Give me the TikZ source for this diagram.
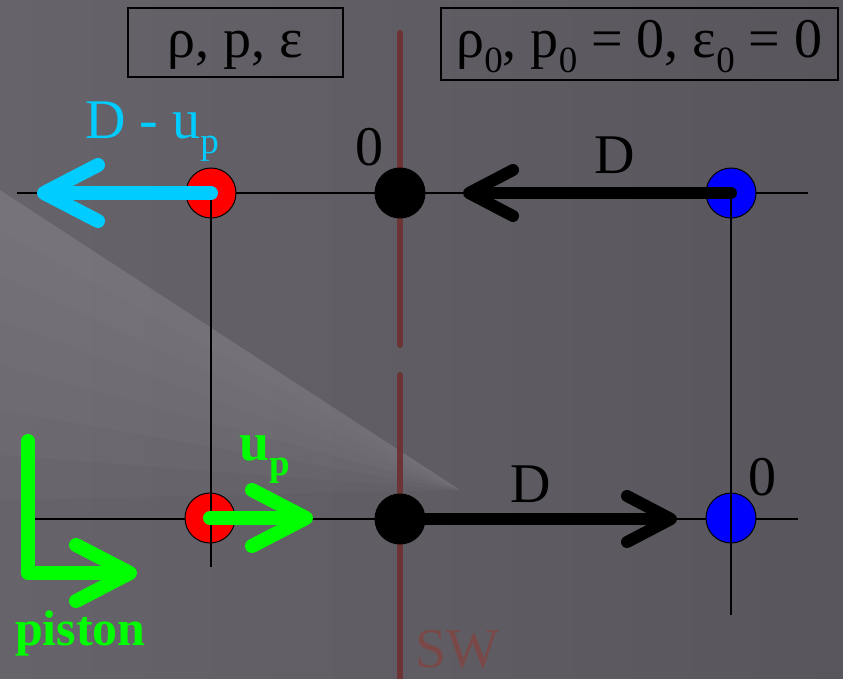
\documentclass[tikz,border=0pt]{standalone}
\usepackage{fontspec}
\setmainfont{Liberation Serif}
\usetikzlibrary{arrows.meta,positioning,calc}
\definecolor{bggray}{RGB}{88,86,92}
\definecolor{bgleft}{RGB}{102,100,106}
\definecolor{bglight}{RGB}{150,148,154}
\definecolor{swred}{RGB}{108,52,52}
\definecolor{skyblue}{RGB}{0,204,255}
\definecolor{limegreen}{RGB}{0,255,0}
\newcommand{\lowsub}[1]{\raisebox{-0.28em}{\fontsize{37}{39}\selectfont #1}}
\tikzset{statebox/.style={draw=black, line width=2pt, inner sep=0pt}, dot/.style={circle, draw=black, line width=1pt, minimum size=50pt, inner sep=0pt}, gridline/.style={black, line width=2pt}, fatarrow/.style={line width=14pt, line cap=round, line join=round, -{Straight Barb[length=54pt,width=56pt,round]}}, blackarrow/.style={black, line width=12pt, line cap=round, -{Straight Barb[length=44pt,width=46pt,round]}}, lbl/.style={inner sep=0pt, anchor=base west}}

\begin{document}
\begin{tikzpicture}[x=1pt,y=-1pt,font=\fontsize{56}{58}\selectfont]
\useasboundingbox (0,0) rectangle (843,678);
% background
\shade[left color=bgleft, right color=bggray] (0,0) rectangle (843,678);
\foreach \k in {0,...,6}
  \fill[bglight, opacity=0.07] (0,190) -- (460,490) -- (0,230+45*\k) -- cycle;
% lines
\coordinate (topleft) at (17,193); \coordinate (topright) at (808,193);
\coordinate (botleft) at (35,519); \coordinate (botright) at (798,519);
\coordinate (redfoot) at (211,567); \coordinate (bluefoot) at (731,615);
\coordinate (swtop) at (400,33); \coordinate (swmid) at (400,345);
\coordinate (swlow) at (400,375); \coordinate (swend) at (400,690);
\draw[gridline] (topleft) -- (topright);
\draw[gridline] (botleft) -- (botright);
\draw[swred, line width=6pt, line cap=round] (swtop) -- (swmid) (swlow) -- (swend);
% points
\node[dot,fill=red] (redtop) at (211,193) {};
\node[dot,fill=black] (blacktop) at (400,193) {};
\node[dot,fill=blue] (bluetop) at (731,193) {};
\node[dot,fill=red] (redbot) at (210,518) {};
\node[dot,fill=black] (blackbot) at (400,519) {};
\node[dot,fill=blue] (bluebot) at (731,518) {};
\draw[gridline] (redtop.center) -- (redfoot);
\draw[gridline] (bluetop.center) -- (bluefoot);
% state boxes
\node[statebox,minimum width=215pt,text height=49pt,text depth=20pt] (boxleft) at (235.5,42.5) {ρ, p, ε};
\node[statebox,minimum width=397pt,text height=49pt,text depth=23pt] (boxright) at (639.5,44) {ρ\lowsub{0}, p\lowsub{0} = 0, ε\lowsub{0} = 0};
% velocities
\coordinate (cyantip) at (37,193);
\coordinate (toptip) at (463,193);
\coordinate (greentip) at (313,518);
\coordinate (bottip) at (677,519);
\draw[fatarrow,skyblue] (redtop.center) -- (cyantip);
\draw[blackarrow] (bluetop.center) -- (toptip);
\draw[fatarrow,limegreen] (redbot.center) -- (greentip);
\draw[blackarrow] (blackbot.center) -- (bottip);
% piston
\coordinate (pistontop) at (28,441); \coordinate (pistoncorner) at (28,573); \coordinate (pistontip) at (137,573);
\draw[fatarrow,limegreen] (pistontop) -- (pistoncorner) -- (pistontip);
% labels
\node[lbl,text=skyblue] (lblcyan) at (85,138) {D - u\lowsub{p}};
\node[lbl] (zerotop) at (355,165) {0};
\node[lbl] (dtop) at (594,173) {D};
\node[lbl] (dbot) at (510,502) {D};
\node[lbl] (zerobot) at (748,495) {0};
\node[lbl,text=limegreen,font=\fontsize{54}{56}\selectfont\bfseries] (lblup) at (239,460) {u\lowsub{p}};
\node[lbl,text=limegreen,font=\fontsize{50}{52}\selectfont\bfseries] (lblpiston) at (15,645) {piston};
\node[lbl,text=swred!90!white] (lblsw) at (415,667) {SW};
\end{tikzpicture}
\end{document}
